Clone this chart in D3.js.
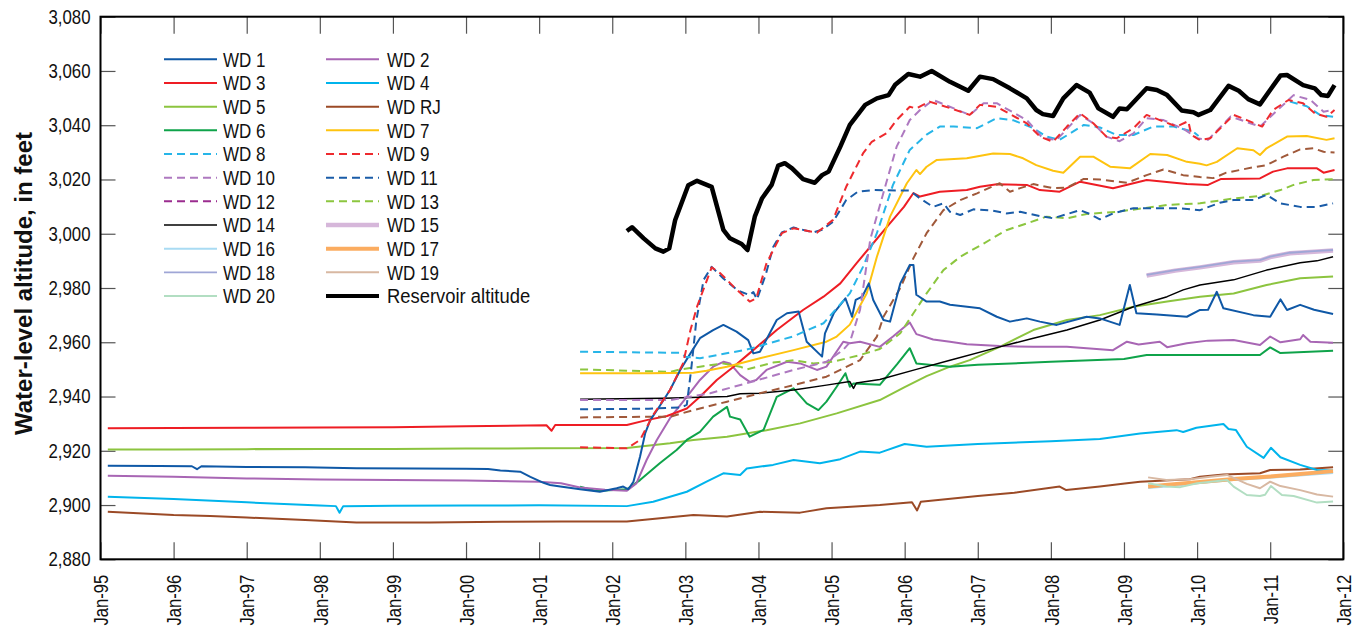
<!DOCTYPE html>
<html>
<head>
<meta charset="utf-8">
<script src="https://cdn.jsdelivr.net/npm/d3@7"></script>
<style>
  body { margin: 0; background: #fff; }
  svg { display: block; font-family: "Liberation Sans", Arial, sans-serif; }
</style>
</head>
<body>
<svg width="1362" height="630"></svg>
<script>
"use strict";

// values are [decimal year, water-level altitude in feet]
var wd1 = [[1995.1,2914.5],[1995.8,2914.4],[1996.25,2914.3],[1996.32,2913.2],[1996.38,2914.3],[1997.0,2914.0],[1997.8,2913.9],[1998.5,2913.6],[1999.3,2913.5],[2000.0,2913.4],[2000.3,2913.3],[2000.47,2912.7],[2000.74,2912.3],[2000.88,2910.4],[2001.06,2908.2],[2001.15,2907.4],[2001.29,2906.8],[2001.56,2905.8],[2001.83,2904.9],[2002.06,2906.2],[2002.15,2906.8],[2002.22,2905.8],[2002.29,2908.6],[2002.38,2917.8],[2002.45,2926.4],[2002.52,2931.3],[2002.63,2935.7],[2002.79,2942.4],[2002.93,2949.8],[2003.07,2955.9],[2003.2,2961.5],[2003.38,2964.5],[2003.52,2966.4],[2003.70,2963.9],[2003.86,2960.8],[2003.93,2955.9],[2004.02,2956.5],[2004.25,2968.2],[2004.39,2970.7],[2004.55,2971.3],[2004.66,2960.2],[2004.87,2954.7],[2004.91,2963.3],[2005.03,2970.7],[2005.19,2976.2],[2005.28,2969.4],[2005.33,2975.6],[2005.42,2976.8],[2005.51,2981.7],[2005.57,2975.6],[2005.71,2968.2],[2005.80,2967.6],[2005.94,2981.7],[2006.07,2988.5],[2006.12,2988.5],[2006.16,2977.5],[2006.30,2975.0],[2006.48,2975.0],[2006.62,2973.8],[2007.03,2972.5],[2007.26,2969.4],[2007.44,2967.6],[2007.67,2968.8],[2007.85,2967.6],[2008.08,2966.4],[2008.49,2969.4],[2008.67,2968.8],[2008.94,2966.4],[2009.08,2981.1],[2009.17,2970.7],[2009.45,2970.2],[2009.86,2969.4],[2010.04,2971.9],[2010.15,2972.0],[2010.27,2978.6],[2010.36,2972.5],[2010.77,2970.0],[2011.0,2969.4],[2011.14,2975.8],[2011.23,2971.9],[2011.41,2973.8],[2011.6,2972.0],[2011.86,2970.4]];
var wd2 = [[1995.1,2910.8],[1996.0,2910.4],[1997.0,2909.8],[1998.0,2909.4],[1999.0,2909.2],[2000.0,2909.0],[2001.0,2908.6],[2001.3,2908.0],[2001.56,2906.5],[2001.9,2905.6],[2002.2,2905.3],[2002.33,2908.0],[2002.47,2916.6],[2002.61,2924.0],[2002.79,2932.0],[2003.02,2939.9],[2003.2,2946.1],[2003.38,2951.0],[2003.52,2952.8],[2003.61,2952.2],[2003.75,2947.9],[2003.88,2945.4],[2003.97,2946.1],[2004.11,2949.8],[2004.39,2952.8],[2004.57,2952.2],[2004.80,2949.8],[2004.93,2951.0],[2005.16,2960.2],[2005.25,2959.6],[2005.39,2960.2],[2005.66,2958.3],[2005.84,2962.1],[2006.07,2967.3],[2006.16,2963.0],[2006.39,2961.0],[2006.62,2960.2],[2006.85,2959.3],[2007.30,2958.6],[2007.76,2958.3],[2008.22,2958.3],[2008.67,2957.4],[2008.85,2957.1],[2009.04,2960.2],[2009.2,2959.2],[2009.49,2960.2],[2009.59,2958.2],[2009.86,2959.6],[2010.15,2960.6],[2010.5,2960.8],[2010.86,2959.0],[2011.0,2962.1],[2011.14,2960.0],[2011.41,2961.1],[2011.45,2962.7],[2011.55,2960.2],[2011.86,2959.8]];
var wd3 = [[1995.1,2928.3],[1996.0,2928.4],[1997.0,2928.5],[1998.0,2928.6],[1999.0,2928.7],[2000.0,2929.0],[2001.1,2929.4],[2001.17,2927.4],[2001.22,2929.5],[2002.2,2929.5],[2002.47,2931.3],[2002.75,2932.8],[2003.02,2935.6],[2003.2,2939.9],[2003.43,2946.1],[2003.66,2951.0],[2003.88,2956.0],[2004.25,2964.5],[2004.61,2971.9],[2004.89,2976.8],[2005.12,2981.7],[2005.34,2989.1],[2005.53,2995.2],[2005.76,3002.6],[2005.99,3009.9],[2006.12,3015.0],[2006.21,3013.7],[2006.48,3015.5],[2006.85,3016.1],[2007.03,3017.3],[2007.26,3018.2],[2007.67,3018.0],[2007.85,3016.1],[2008.12,3015.5],[2008.40,3019.2],[2008.85,3016.8],[2009.31,3019.8],[2009.86,3018.3],[2010.15,3018.0],[2010.33,3020.2],[2010.86,3020.4],[2011.04,3022.9],[2011.23,3024.1],[2011.64,3024.1],[2011.73,3022.5],[2011.88,3023.5]];
var wd4 = [[1995.1,2903.1],[1996.0,2902.2],[1997.0,2901.0],[1998.0,2899.8],[1998.22,2899.6],[1998.27,2897.2],[1998.32,2899.6],[1999.0,2899.7],[2000.0,2899.8],[2001.0,2899.9],[2002.2,2899.6],[2002.56,2901.2],[2003.02,2904.9],[2003.29,2908.6],[2003.52,2911.7],[2003.75,2911.1],[2003.84,2913.5],[2004.2,2914.8],[2004.48,2916.6],[2004.84,2915.4],[2005.12,2916.9],[2005.39,2919.7],[2005.66,2919.3],[2006.0,2922.5],[2006.3,2921.5],[2007.0,2922.5],[2008.0,2923.5],[2008.67,2924.3],[2009.22,2926.4],[2009.72,2927.6],[2009.81,2926.9],[2009.99,2928.5],[2010.36,2929.9],[2010.43,2928.0],[2010.53,2927.7],[2010.68,2921.5],[2010.91,2917.4],[2011.01,2921.1],[2011.14,2917.6],[2011.41,2914.8],[2011.64,2912.9],[2011.86,2912.7]];
var wd5 = [[1995.1,2920.5],[1996.0,2920.5],[1997.0,2920.6],[1998.0,2920.7],[1999.0,2920.7],[2000.0,2920.8],[2001.0,2920.9],[2002.2,2921.0],[2002.79,2922.8],[2003.11,2924.0],[2003.57,2925.2],[2004.11,2927.6],[2004.57,2930.1],[2005.07,2933.8],[2005.66,2938.7],[2006.0,2943.5],[2006.3,2947.5],[2006.62,2951.0],[2006.89,2953.4],[2007.30,2958.3],[2007.76,2964.5],[2008.22,2968.2],[2008.67,2970.0],[2009.13,2973.1],[2009.59,2975.0],[2010.04,2976.8],[2010.50,2978.0],[2010.95,2981.1],[2011.41,2983.6],[2011.86,2984.2]];
var wdRJ = [[1995.1,2897.5],[1996.0,2896.3],[1996.5,2896.0],[1997.0,2895.4],[1997.8,2894.5],[1998.5,2893.6],[1999.5,2893.6],[2000.5,2893.8],[2001.3,2893.9],[2002.2,2893.9],[2003.11,2896.3],[2003.57,2895.8],[2004.02,2897.5],[2004.57,2897.2],[2004.93,2898.8],[2005.66,2900.0],[2006.1,2901.0],[2006.17,2898.0],[2006.22,2901.2],[2007.0,2903.3],[2007.5,2904.5],[2008.12,2906.8],[2008.21,2905.5],[2008.67,2906.8],[2009.04,2908.0],[2009.22,2908.6],[2009.9,2909.5],[2010.04,2910.4],[2010.36,2911.3],[2010.86,2911.7],[2011.0,2912.9],[2011.41,2913.1],[2011.86,2913.9]];
var wd6 = [[2001.56,2906.8],[2001.78,2905.2],[2002.2,2905.8],[2002.38,2909.2],[2002.65,2915.4],[2002.88,2920.3],[2003.02,2924.0],[2003.2,2927.0],[2003.38,2932.6],[2003.57,2936.2],[2003.61,2932.6],[2003.75,2931.5],[2003.88,2925.2],[2004.07,2927.7],[2004.25,2939.9],[2004.48,2943.0],[2004.66,2937.5],[2004.82,2935.0],[2004.93,2938.1],[2005.07,2943.6],[2005.19,2948.6],[2005.25,2943.6],[2005.3,2944.8],[2005.66,2944.3],[2005.9,2952.0],[2006.07,2957.8],[2006.16,2952.2],[2006.62,2951.0],[2007.0,2951.7],[2008.0,2952.8],[2009.0,2953.8],[2009.31,2955.3],[2010.04,2955.3],[2010.86,2955.3],[2011.0,2958.1],[2011.14,2956.0],[2011.86,2956.9]];
var wd7 = [[2001.56,2948.6],[2002.5,2948.6],[2003.11,2948.8],[2003.29,2949.5],[2003.57,2951.0],[2004.02,2954.1],[2004.48,2957.1],[2004.93,2960.2],[2005.07,2962.1],[2005.25,2966.5],[2005.48,2978.0],[2005.62,2991.5],[2005.80,3006.3],[2006.03,3018.6],[2006.16,3023.5],[2006.21,3022.0],[2006.3,3024.7],[2006.44,3027.2],[2006.85,3027.8],[2007.21,3029.6],[2007.44,3029.4],[2007.62,3027.8],[2007.80,3025.3],[2008.03,3023.2],[2008.17,3022.5],[2008.40,3028.4],[2008.58,3028.4],[2008.81,3024.7],[2009.08,3024.1],[2009.36,3029.4],[2009.59,3029.0],[2009.86,3026.5],[2010.04,3025.8],[2010.13,3025.2],[2010.27,3026.5],[2010.55,3031.5],[2010.77,3030.8],[2010.86,3029.0],[2010.95,3031.5],[2011.23,3035.8],[2011.50,3036.0],[2011.77,3034.6],[2011.88,3035.2]];
var wd8 = [[2001.56,2956.5],[2002.93,2956.1],[2003.0,2954.7],[2003.2,2954.1],[2003.84,2957.3],[2004.48,2962.2],[2004.89,2967.0],[2005.25,2978.0],[2005.43,2987.8],[2005.62,3000.2],[2005.84,3018.0],[2006.07,3030.9],[2006.30,3036.5],[2006.48,3039.5],[2006.67,3039.5],[2006.99,3038.9],[2007.26,3042.6],[2007.49,3041.8],[2007.76,3038.9],[2007.94,3035.8],[2008.12,3034.6],[2008.45,3040.1],[2008.67,3039.2],[2008.90,3036.4],[2009.13,3036.4],[2009.40,3039.5],[2009.68,3039.5],[2009.95,3037.6],[2010.02,3036.0],[2010.5,null],[2011.27,3048.7],[2011.5,3047.0],[2011.68,3043.8],[2011.86,3043.1]];
var wd9 = [[2001.56,2921.3],[2002.2,2920.9],[2002.38,2924.0],[2002.56,2933.2],[2002.79,2942.4],[2002.97,2952.3],[2003.07,2964.5],[2003.16,2973.1],[2003.36,2987.6],[2003.48,2985.4],[2003.66,2980.5],[2003.88,2975.0],[2003.97,2976.2],[2004.11,2989.1],[2004.32,3000.2],[2004.48,3002.0],[2004.80,3000.4],[2005.02,3005.1],[2005.20,3017.3],[2005.43,3029.6],[2005.55,3033.9],[2005.76,3037.2],[2005.89,3041.9],[2006.07,3046.8],[2006.16,3046.2],[2006.34,3048.7],[2006.60,3046.5],[2006.89,3043.8],[2007.03,3047.5],[2007.26,3046.8],[2007.67,3040.7],[2007.85,3035.8],[2008.03,3033.9],[2008.22,3039.5],[2008.40,3044.4],[2008.58,3040.7],[2008.76,3035.8],[2008.90,3035.2],[2009.13,3038.9],[2009.31,3043.8],[2009.49,3041.9],[2009.72,3039.5],[2009.88,3041.5],[2009.92,3036.5],[2010.04,3034.5],[2010.18,3035.2],[2010.50,3043.8],[2010.68,3041.9],[2010.89,3039.5],[2011.04,3045.6],[2011.25,3049.3],[2011.45,3048.1],[2011.61,3044.4],[2011.77,3043.1],[2011.88,3045.6]];
var wd10 = [[2001.56,2938.7],[2002.8,2938.7],[2003.34,2941.2],[2003.84,2944.9],[2004.48,2949.8],[2004.93,2952.8],[2005.16,2957.2],[2005.25,2960.0],[2005.39,2972.0],[2005.53,2998.0],[2005.76,3019.9],[2005.89,3032.1],[2006.07,3041.9],[2006.21,3045.6],[2006.39,3049.3],[2006.60,3047.0],[2006.89,3043.8],[2007.08,3048.1],[2007.26,3048.1],[2007.67,3041.9],[2007.89,3035.2],[2008.08,3034.6],[2008.40,3043.8],[2008.58,3040.7],[2008.76,3035.8],[2008.94,3034.1],[2009.13,3037.0],[2009.31,3042.6],[2009.54,3041.9],[2009.83,3038.4],[2010.0,3035.2],[2010.15,3034.6],[2010.46,3043.2],[2010.86,3039.5],[2011.32,3051.1],[2011.55,3049.3],[2011.73,3045.0],[2011.86,3045.6]];
var wd11 = [[2001.56,2935.3],[2002.5,2935.5],[2002.95,2936.0],[2003.02,2937.0],[2003.08,2950.0],[2003.15,2968.0],[2003.25,2983.0],[2003.36,2987.8],[2003.52,2983.5],[2003.72,2979.0],[2003.88,2977.4],[2003.93,2978.5],[2003.98,2975.8],[2004.1,2985.0],[2004.2,2995.0],[2004.32,3000.5],[2004.48,3002.3],[2004.75,3000.5],[2004.87,3001.5],[2005.02,3004.4],[2005.20,3012.4],[2005.36,3015.5],[2005.57,3016.1],[2006.07,3015.9],[2006.21,3013.0],[2006.39,3009.9],[2006.53,3011.2],[2006.62,3008.1],[2006.76,3006.9],[2006.94,3009.0],[2007.21,3008.5],[2007.39,3007.5],[2007.58,3008.1],[2007.85,3006.5],[2008.03,3005.7],[2008.40,3008.7],[2008.53,3007.3],[2008.67,3005.3],[2008.85,3007.5],[2009.13,3009.4],[2009.76,3009.4],[2010.04,3008.7],[2010.31,3011.4],[2010.50,3012.4],[2010.77,3012.4],[2010.95,3014.3],[2011.14,3011.2],[2011.41,3009.9],[2011.64,3009.9],[2011.86,3011.2]];
var wd12 = [[2001.56,2932.3],[2002.8,2932.6],[2003.11,2935.0],[2003.57,2938.1],[2004.02,2941.2],[2004.48,2944.2],[2004.93,2947.3],[2005.39,2953.4],[2005.62,2962.1],[2005.71,2969.4],[2005.94,2980.0],[2006.12,2991.0],[2006.3,3000.2],[2006.53,3008.7],[2006.76,3012.4],[2006.99,3014.9],[2007.30,3018.6],[2007.44,3015.5],[2007.58,3016.8],[2007.76,3018.3],[2008.03,3016.8],[2008.22,3017.0],[2008.45,3020.2],[2008.67,3020.0],[2009.04,3018.8],[2009.31,3021.6],[2009.54,3023.7],[2009.81,3021.6],[2010.04,3020.9],[2010.22,3020.5],[2010.40,3022.5],[2010.77,3024.5],[2010.95,3025.3],[2011.18,3028.4],[2011.41,3031.1],[2011.59,3031.5],[2011.73,3030.2],[2011.88,3029.9]];
var wd13 = [[2001.56,2950.0],[2002.8,2949.1],[2002.93,2950.0],[2003.2,2951.0],[2003.52,2952.2],[2003.75,2951.0],[2003.84,2950.0],[2004.2,2952.5],[2004.48,2953.4],[2004.75,2952.2],[2005.02,2952.8],[2005.39,2955.3],[2005.66,2957.5],[2005.94,2963.3],[2006.12,2970.7],[2006.30,2978.0],[2006.53,2986.6],[2006.76,2991.5],[2007.08,2996.4],[2007.39,3001.3],[2007.67,3003.8],[2007.94,3006.3],[2008.22,3005.7],[2008.49,3007.3],[2008.90,3008.1],[2009.27,3009.4],[2009.59,3010.6],[2010.04,3011.2],[2010.50,3013.0],[2010.86,3013.9],[2011.14,3016.1],[2011.32,3018.0],[2011.59,3019.8],[2011.86,3020.1]];
var wd14 = [[2001.56,2939.0],[2002.7,2939.4],[2003.57,2940.0],[2003.75,2941.0],[2004.02,2941.2],[2004.48,2942.4],[2004.93,2944.2],[2005.25,2945.5],[2005.30,2943.0],[2005.34,2945.0],[2005.66,2946.3],[2006.16,2950.0],[2006.62,2953.4],[2007.30,2958.3],[2007.76,2961.5],[2008.22,2964.5],[2008.67,2968.2],[2009.13,2973.1],[2009.59,2976.8],[2009.81,2979.3],[2010.04,2981.1],[2010.50,2983.0],[2010.95,2986.6],[2011.41,2989.3],[2011.64,2990.0],[2011.86,2991.5]];
var wd15 = [[2009.31,2984.6],[2009.7,2986.4],[2010.04,2987.6],[2010.50,2989.5],[2010.86,2990.1],[2011.0,2991.4],[2011.27,2992.8],[2011.6,2993.4],[2011.86,2993.8]];
var wd16 = [[2009.33,2906.3],[2009.7,2907.1],[2010.04,2908.1],[2010.5,2909.2],[2010.95,2910.0],[2011.4,2910.9],[2011.86,2911.8]];
var wd17 = [[2009.33,2906.8],[2009.72,2907.8],[2010.04,2908.5],[2010.50,2909.6],[2010.95,2910.4],[2011.41,2911.4],[2011.86,2912.5]];
var wd18 = [[2009.31,2984.8],[2009.7,2986.6],[2010.04,2987.8],[2010.50,2989.7],[2010.86,2990.3],[2011.0,2991.6],[2011.27,2993.0],[2011.6,2993.6],[2011.86,2994.0]];
var wd19 = [[2009.33,2910.2],[2009.58,2909.2],[2009.9,2909.5],[2010.18,2910.4],[2010.41,2911.1],[2010.68,2907.8],[2010.86,2906.2],[2011.0,2908.6],[2011.14,2907.0],[2011.41,2905.5],[2011.64,2903.9],[2011.86,2903.1]];
var wd20 = [[2009.33,2908.0],[2009.58,2906.8],[2009.77,2906.6],[2010.0,2908.0],[2010.41,2909.2],[2010.50,2906.8],[2010.68,2903.7],[2010.86,2903.3],[2010.93,2903.8],[2011.01,2907.0],[2011.16,2903.7],[2011.32,2903.3],[2011.64,2900.9],[2011.86,2901.3]];
var reservoir = [[2002.20,3001.0],[2002.27,3002.4],[2002.43,2998.3],[2002.59,2994.6],[2002.70,2993.4],[2002.78,2994.6],[2002.86,3005.0],[2003.04,3017.9],[2003.16,3019.5],[2003.36,3017.3],[2003.52,3001.4],[2003.61,2998.3],[2003.77,2996.2],[2003.85,2994.0],[2003.95,3006.3],[2004.05,3013.1],[2004.18,3018.0],[2004.27,3025.1],[2004.36,3026.0],[2004.46,3024.1],[2004.61,3020.1],[2004.77,3018.8],[2004.87,3021.6],[2004.96,3022.9],[2005.12,3032.1],[2005.25,3040.1],[2005.46,3047.5],[2005.62,3049.9],[2005.78,3051.1],[2005.87,3054.9],[2006.05,3058.9],[2006.21,3057.9],[2006.37,3060.0],[2006.62,3056.0],[2006.87,3052.7],[2007.03,3057.9],[2007.21,3057.0],[2007.44,3053.6],[2007.67,3049.9],[2007.80,3045.6],[2007.89,3044.1],[2008.03,3043.4],[2008.17,3049.9],[2008.35,3054.8],[2008.53,3052.0],[2008.65,3046.2],[2008.85,3043.1],[2008.94,3046.2],[2009.04,3045.9],[2009.31,3053.6],[2009.45,3053.0],[2009.59,3051.1],[2009.79,3045.4],[2009.95,3044.8],[2010.02,3043.8],[2010.18,3045.6],[2010.43,3054.5],[2010.57,3052.7],[2010.70,3049.6],[2010.86,3047.7],[2011.14,3058.3],[2011.23,3058.5],[2011.45,3054.8],[2011.61,3053.6],[2011.70,3051.1],[2011.79,3050.8],[2011.88,3054.8]];

var years = d3.range(1995, 2013);
var yTicks = d3.range(2880, 3081, 20);

// drawing order and styles (legend order is kept separately)
var series = [
  {name: "WD RJ", data: wdRJ, color: "#9b4a26", width: 2},
  {name: "WD 4", data: wd4, color: "#00b4ec", width: 2},
  {name: "WD 16", data: wd16, color: "#a9dbf3", width: 2},
  {name: "WD 17", data: wd17, color: "#fbac60", width: 4},
  {name: "WD 19", data: wd19, color: "#d8b8a2", width: 2},
  {name: "WD 20", data: wd20, color: "#b2dec2", width: 2},
  {name: "WD 5", data: wd5, color: "#8cc43f", width: 2},
  {name: "WD 6", data: wd6, color: "#0fa34a", width: 2},
  {name: "WD 2", data: wd2, color: "#a866b4", width: 2},
  {name: "WD 3", data: wd3, color: "#ee1d24", width: 2},
  {name: "WD 14", data: wd14, color: "#000", width: 1.5},
  {name: "WD 15", data: wd15, color: "#d6b7da", width: 4.5},
  {name: "WD 18", data: wd18, color: "#9fa6d6", width: 1.8},
  {name: "WD 12", data: wd12, color: "#a0593a", width: 2, dash: "8,5", legendColor: "#9b2c8f"},
  {name: "WD 13", data: wd13, color: "#8cc63f", width: 2, dash: "8,5"},
  {name: "WD 7", data: wd7, color: "#fec30f", width: 2},
  {name: "WD 1", data: wd1, color: "#0f58a6", width: 2},
  {name: "WD 8", data: wd8, color: "#27b5e8", width: 2, dash: "8,5"},
  {name: "WD 11", data: wd11, color: "#1a5ca8", width: 2, dash: "8,5"},
  {name: "WD 10", data: wd10, color: "#ae79c0", width: 2, dash: "8,5"},
  {name: "WD 9", data: wd9, color: "#ee2a2e", width: 2, dash: "8,5"},
  {name: "Reservoir altitude", data: reservoir, color: "#000", width: 4.5}
];

var legendOrder = ["WD 1", "WD 2", "WD 3", "WD 4", "WD 5", "WD RJ", "WD 6", "WD 7",
  "WD 8", "WD 9", "WD 10", "WD 11", "WD 12", "WD 13", "WD 14", "WD 15",
  "WD 16", "WD 17", "WD 18", "WD 19", "WD 20", "Reservoir altitude"];

var svg = d3.select("svg");
var plotLeft = 100.5, plotRight = 1343.3, plotTop = 16.7, plotBottom = 559.3;

var x = d3.scaleLinear().domain([1995, 2012]).range([plotLeft, plotRight]);
var y = d3.scaleLinear().domain([2880, 3080]).range([plotBottom, plotTop]);

var line = d3.line()
    .defined(function(d) { return d[1] != null; })
    .x(function(d) { return x(d[0]); })
    .y(function(d) { return y(d[1]); });

// no narrow font installed, so squeeze the text to look condensed
function narrow(sel, k) {
  sel.each(function() {
    var w = this.getComputedTextLength();
    d3.select(this).attr("textLength", w * k).attr("lengthAdjust", "spacingAndGlyphs");
  });
}

// ticks pointing into the plot on all four sides
function styleTicks(g) {
  g.select(".domain").remove();
  g.selectAll(".tick line").attr("stroke", "#555").attr("stroke-width", 1.2);
}

svg.append("g")
    .attr("transform", "translate(" + plotLeft + ",0)")
    .call(d3.axisLeft(y).tickValues(yTicks).tickSize(-15).tickPadding(10).tickFormat(d3.format(",")))
    .call(styleTicks)
    .selectAll("text")
      .attr("font-size", 20)
      .attr("font-family", "Liberation Sans, Arial, sans-serif")
      .attr("fill", "#111")
      .call(narrow, 0.84);

svg.append("g")
    .attr("transform", "translate(" + plotRight + ",0)")
    .call(d3.axisRight(y).tickValues(yTicks).tickSize(-15).tickFormat(""))
    .call(styleTicks);

svg.append("g")
    .attr("transform", "translate(0," + plotTop + ")")
    .call(d3.axisTop(x).tickValues(years).tickSize(-17).tickFormat(""))
    .call(styleTicks);

svg.append("g")
    .attr("transform", "translate(0," + plotBottom + ")")
    .call(d3.axisBottom(x).tickValues(years).tickSize(-17)
      .tickFormat(function(d) { return "Jan-" + String(d % 100).padStart(2, "0"); }))
    .call(styleTicks)
    .selectAll("text")
      .attr("font-size", 20)
      .attr("font-family", "Liberation Sans, Arial, sans-serif")
      .attr("fill", "#111")
      .attr("text-anchor", "end")
      .attr("transform", "rotate(-90)")
      .attr("x", -15.5)
      .attr("y", 0)
      .attr("dy", "0.36em")
      .call(narrow, 0.83);

// the lines
svg.append("g")
  .selectAll("path")
  .data(series)
  .enter()
    .append("path")
    .attr("fill", "none")
    .attr("stroke", function(d) { return d.color; })
    .attr("stroke-width", function(d) { return d.width; })
    .attr("stroke-dasharray", function(d) { return d.dash || null; })
    .attr("stroke-linejoin", "round")
    .attr("d", function(d) { return line(d.data); });

// frame
svg.append("rect")
    .attr("x", plotLeft).attr("y", plotTop)
    .attr("width", plotRight - plotLeft).attr("height", plotBottom - plotTop)
    .attr("fill", "none").attr("stroke", "#000").attr("stroke-width", 2);

// y axis title
svg.append("text")
    .attr("transform", "translate(32,283.5) rotate(-90)")
    .attr("text-anchor", "middle")
    .attr("font-size", 24)
    .attr("font-weight", "bold")
    .attr("textLength", 303)
    .attr("lengthAdjust", "spacingAndGlyphs")
    .attr("fill", "#111")
    .text("Water-level altitude, in feet");

// legend, two columns
var byName = {};
series.forEach(function(s) { byName[s.name] = s; });

var legend = svg.append("g")
  .selectAll("g")
  .data(legendOrder.map(function(n) { return byName[n]; }))
  .enter()
    .append("g")
    .attr("transform", function(d, i) {
      var col = i % 2, row = Math.floor(i / 2);
      return "translate(" + (col ? 326 : 164) + "," + (59.3 + row * 23.67) + ")";
    });

legend.append("line")
    .attr("x1", 0).attr("x2", 53)
    .attr("stroke", function(d) { return d.legendColor || d.color; })
    .attr("stroke-width", function(d) { return d.name == "Reservoir altitude" ? 4 : d.width; })
    .attr("stroke-dasharray", function(d) { return d.dash || null; });

legend.append("text")
    .attr("x", function(d, i) { return i % 2 ? 61 : 59; })
    .attr("dy", "0.36em")
    .attr("font-size", 20)
    .attr("fill", "#111")
    .text(function(d) { return d.name; })
    .each(function(d) {
      d3.select(this).call(narrow, d.name == "Reservoir altitude" ? 0.92 : 0.85);
    });
</script>
</body>
</html>
